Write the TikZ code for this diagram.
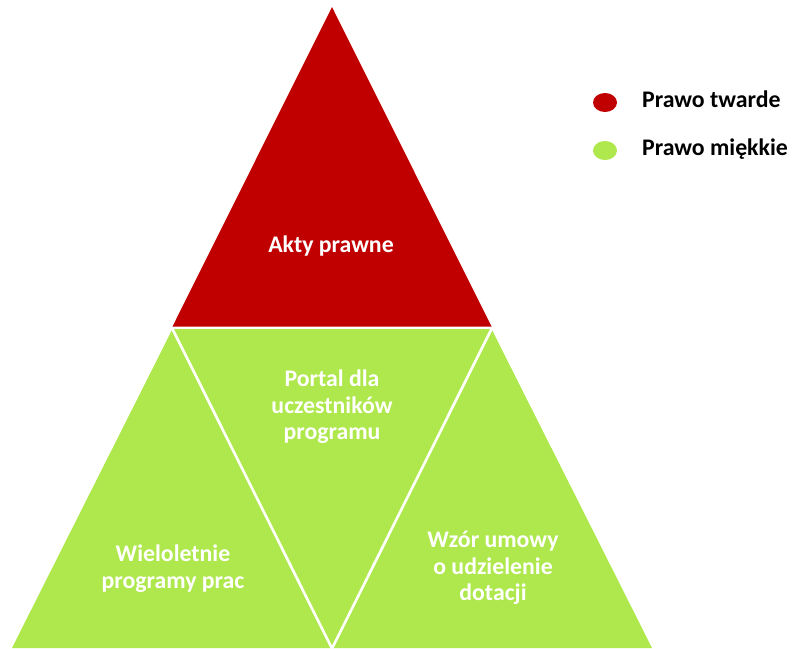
\documentclass[tikz,border=0pt]{standalone}
\usepackage{fontspec}
\setmainfont{Carlito}
\definecolor{hardred}{RGB}{192,0,0}
\definecolor{softgreen}{RGB}{174,232,76}
\tikzset{
  lbl/.style={text=white, font=\bfseries\fontsize{23.8}{26.5}\selectfont, align=center, inner sep=0pt, anchor=base},
  legtxt/.style={text=black, font=\bfseries\fontsize{23.8}{26.5}\selectfont, inner sep=0pt, anchor=base west},
  sep/.style={draw=white, line width=2.6pt},
  dot/.style={ellipse, minimum width=24pt, minimum height=19pt, inner sep=0pt}
}
\usetikzlibrary{shapes.geometric}
\begin{document}
\begin{tikzpicture}[x=1pt,y=-1pt]
\useasboundingbox (0,0) rectangle (792,648);
% top red triangle
\fill[hardred] (332,7) -- (491.5,326.5) -- (172.5,326.5) -- cycle;
% green trapezoid
\fill[softgreen] (172.5,329) -- (491.5,329) -- (652,648) -- (12,648) -- cycle;
\coordinate (tl) at (172.5,329);
\coordinate (tr) at (491.5,329);
\coordinate (bm) at (332,648.5);
\draw[sep] (tl) -- (bm);
\draw[sep] (tr) -- (bm);
% labels
\node[lbl] (akty) at (331,252) {Akty prawne};
\node[lbl] (portal) at (332,439.5) {Portal dla\\uczestników\\programu};
\node[lbl] (wiel) at (173,588) {Wieloletnie\\programy prac};
\node[lbl] (wzor) at (493,600.5) {Wzór umowy\\o udzielenie\\dotacji};
% legend
\node[dot, fill=hardred] (d1) at (605,102.5) {};
\node[dot, fill=softgreen] (d2) at (605,150.5) {};
\node[legtxt] (l1) at (642,107) {Prawo twarde};
\node[legtxt] (l2) at (642,155) {Prawo miękkie};
\end{tikzpicture}
\end{document}
